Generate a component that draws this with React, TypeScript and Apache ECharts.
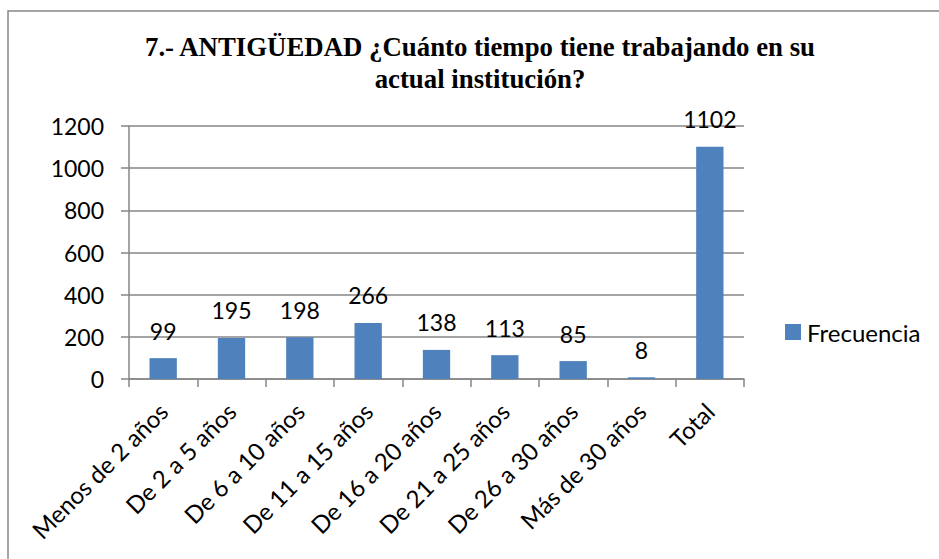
import React, { useEffect, useRef } from "react";
import * as echarts from "echarts";

const categories = [
  "Menos de 2 años",
  "De 2 a 5 años",
  "De 6 a 10 años",
  "De 11 a 15 años",
  "De 16 a 20 años",
  "De 21 a 25 años",
  "De 26 a 30 años",
  "Más de 30 años",
  "Total",
];
const frecuencia = [99, 195, 198, 266, 138, 113, 85, 8, 1102];
const seriesName = "Frecuencia";
const titleText = "7.- ANTIGÜEDAD ¿Cuánto tiempo tiene trabajando en su\nactual institución?";

const FONT = "Lato";
const GREY = "#868686";

export default function App() {
  const ref = useRef<HTMLDivElement>(null);
  useEffect(() => {
    if (!ref.current) return;
    const chart = echarts.init(ref.current, null, { renderer: "svg" });
    chart.setOption({
      animation: false,
      backgroundColor: "#ffffff",
      graphic: [
        {
          type: "rect",
          shape: { x: 8, y: 11, width: 1000, height: 700 },
          style: { fill: "none", stroke: GREY, lineWidth: 1.5 },
          z: -1,
        },
        {
          type: "text",
          x: 480,
          y: 31,
          style: {
            text: titleText,
            fontFamily: "Liberation Serif",
            fontWeight: "bold",
            fontSize: 26.8,
            lineHeight: 32,
            align: "center",
            verticalAlign: "top",
            fill: "#000",
          },
        },
      ],
      legend: {
        data: [seriesName],
        left: 780,
        top: 315,
        orient: "vertical",
        icon: "rect",
        itemWidth: 16,
        itemHeight: 16,
        itemGap: 6,
        textStyle: { fontFamily: FONT, fontSize: 24, color: "#000", padding: [0, 0, 0, 1] },
      },
      grid: { left: 129, right: 195, top: 126, bottom: 180 },
      xAxis: {
        type: "category",
        data: categories,
        axisLine: { show: true, lineStyle: { color: GREY, width: 1.5 } },
        axisTick: { show: true, length: 8, alignWithLabel: false, lineStyle: { color: GREY, width: 1.5 } },
        axisLabel: {
          rotate: 45,
          interval: 0,
          margin: 28,
          fontFamily: FONT,
          fontSize: 24,
          color: "#000",
        },
      },
      yAxis: {
        type: "value",
        min: 0,
        max: 1200,
        interval: 200,
        axisLine: { show: true, lineStyle: { color: GREY, width: 1.5 } },
        axisTick: { show: true, length: 8, inside: false, lineStyle: { color: GREY, width: 1.5 } },
        splitLine: { show: true, lineStyle: { color: GREY, width: 1.5 } },
        axisLabel: {
          margin: 25,
          fontFamily: FONT,
          fontSize: 23,
          color: "#000",
          formatter: (v: number) => String(v),
        },
      },
      series: [
        {
          name: seriesName,
          type: "bar",
          data: frecuencia,
          barWidth: "40%",
          itemStyle: { color: "#4F81BD" },
          label: {
            show: true,
            position: "top",
            distance: 16,
            fontFamily: FONT,
            fontSize: 23,
            color: "#000",
          },
        },
      ],
    });
    return () => chart.dispose();
  }, []);
  return (
    <div
      ref={ref}
      style={{ position: "fixed", left: 0, top: 0, width: 939, height: 559, background: "#fff" }}
    />
  );
}
